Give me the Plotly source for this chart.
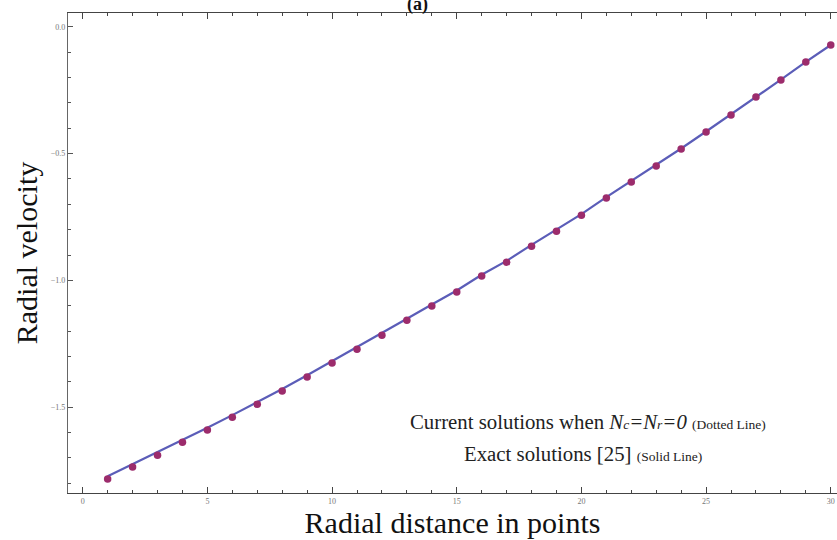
import plotly.graph_objects as go

# Radial positions (grid points)
radial_points = list(range(1, 31))

# Current solutions (Nc = Nr = 0), drawn as dots
current_velocity = [
    -1.783, -1.736, -1.689, -1.638, -1.590, -1.539, -1.488, -1.436, -1.381, -1.326,
    -1.271, -1.216, -1.157, -1.101, -1.046, -0.983, -0.928, -0.865, -0.806, -0.743,
    -0.675, -0.612, -0.549, -0.482, -0.415, -0.348, -0.277, -0.210, -0.139, -0.072,
]

# Exact solutions [25], drawn as a solid line
exact_velocity = [
    -1.772, -1.725, -1.678, -1.629, -1.581, -1.531, -1.480, -1.428, -1.374, -1.319,
    -1.264, -1.209, -1.151, -1.095, -1.040, -0.978, -0.923, -0.860, -0.801, -0.739,
    -0.672, -0.609, -0.546, -0.480, -0.413, -0.346, -0.276, -0.209, -0.139, -0.072,
]

x_tick_values = [0, 5, 10, 15, 20, 25, 30]
y_tick_values = [0.0, -0.5, -1.0, -1.5]
y_tick_labels = ["0.0", "\u22120.5", "\u22121.0", "\u22121.5"]

fig = go.Figure()

fig.add_trace(go.Scatter(
    x=radial_points, y=exact_velocity, mode="lines",
    line=dict(color="#5b5db8", width=2.2),
    showlegend=False, hoverinfo="skip",
))
fig.add_trace(go.Scatter(
    x=radial_points, y=current_velocity, mode="markers",
    marker=dict(color="#9c2c6c", size=7.5),
    showlegend=False, hoverinfo="skip",
))

serif = "Liberation Serif"

fig.update_layout(
    width=837, height=540,
    margin=dict(l=68, r=0, t=13, b=47),
    paper_bgcolor="white", plot_bgcolor="white",
    font=dict(family=serif, color="#222"),
    xaxis=dict(
        range=[-0.59, 30.25],
        tickvals=x_tick_values,
        ticks="inside", ticklen=6, tickwidth=1, tickcolor="#444",
        minor=dict(dtick=1, ticks="inside", ticklen=3, tickcolor="#444"),
        showline=True, linecolor="#444", linewidth=1.3, mirror="ticks",
        showgrid=False, zeroline=False,
        tickfont=dict(size=8, color="#777", family=serif),
        title=dict(text="Radial distance in points",
                   font=dict(size=30, color="#111", family=serif), standoff=0),
    ),
    yaxis=dict(
        range=[-1.838, 0.054],
        tickvals=y_tick_values, ticktext=y_tick_labels,
        ticks="inside", ticklen=5, tickwidth=1, tickcolor="#555",
        minor=dict(dtick=0.1, ticks="inside", ticklen=3, tickcolor="#555"),
        showline=True, linecolor="#666", linewidth=1.3,
        showgrid=False, zeroline=False,
        tickfont=dict(size=8, color="#777", family=serif),
        title=dict(text="Radial velocity",
                   font=dict(size=30, color="#111", family=serif), standoff=4),
    ),
    annotations=[
        dict(text="<b>(a)</b>", xref="paper", yref="paper", x=0.455, y=1.0,
             yanchor="bottom", yshift=-4, showarrow=False,
             font=dict(size=18, color="#111", family=serif)),
        dict(text="Current solutions when <i>N<span style='font-size:13.5px'>c</span>"
                  "=N<span style='font-size:13.5px'>r</span>=0</i> "
                  "<span style='font-size:13.5px'>(Dotted Line)</span>",
             x=20.25, y=-1.555, xref="x", yref="y", showarrow=False,
             font=dict(size=20.8, color="#222", family=serif)),
        dict(text="Exact solutions [25] <span style='font-size:13.5px'>(Solid Line)</span>",
             x=20.05, y=-1.681, xref="x", yref="y", showarrow=False,
             font=dict(size=20.8, color="#222", family=serif)),
    ],
)

fig.write_html("out.html")
